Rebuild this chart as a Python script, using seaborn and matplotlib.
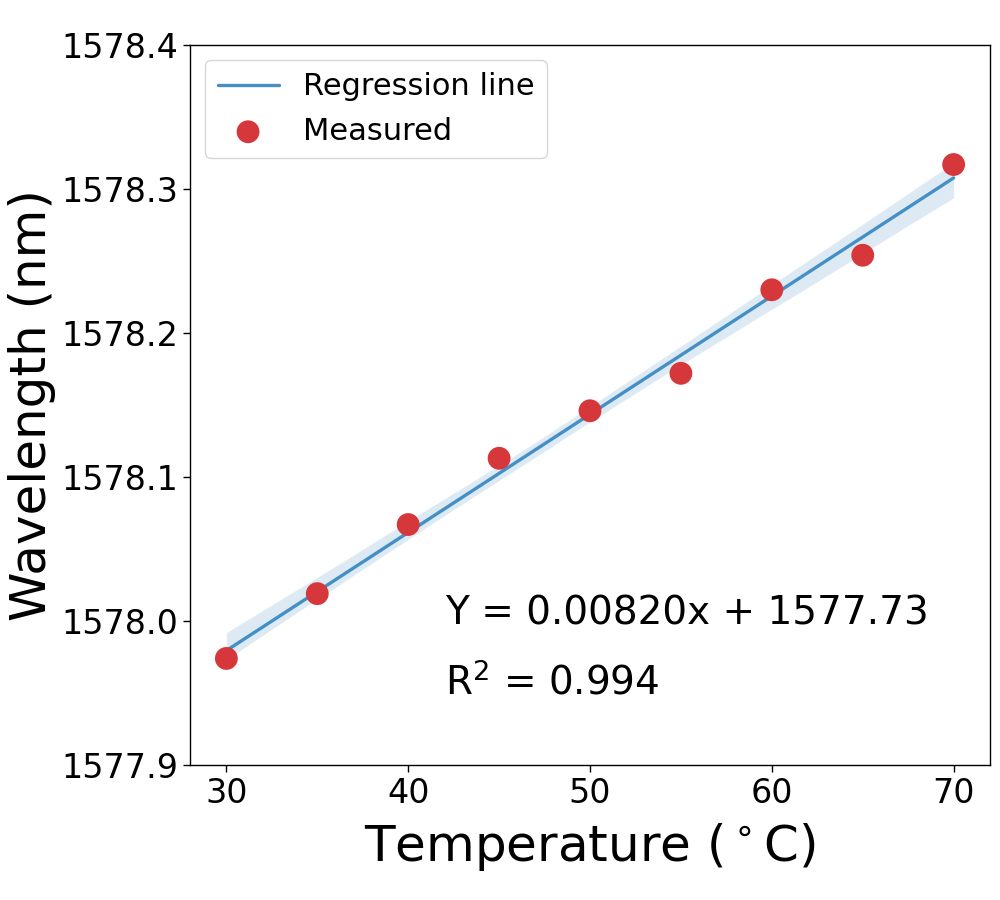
import matplotlib
matplotlib.use("Agg")
import matplotlib.pyplot as plt
import seaborn as sns
import pandas as pd

temperature = [30, 35, 40, 45, 50, 55, 60, 65, 70]
wavelength = [1577.974, 1578.019, 1578.067, 1578.113, 1578.146, 1578.172, 1578.230, 1578.254, 1578.317]
x_ticks = [30, 40, 50, 60, 70]
y_ticks = [1577.9, 1578.0, 1578.1, 1578.2, 1578.3, 1578.4]

df = pd.DataFrame({"T": temperature, "W": wavelength})

sns.set_style("ticks")
plt.rcParams['font.family'] = ['DejaVu Sans']
plt.rcParams.update({"text.color": "black", "axes.labelcolor": "black",
                     "xtick.color": "black", "ytick.color": "black",
                     "axes.edgecolor": "black"})
fig = plt.figure(figsize=(10, 9), dpi=100)
ax = fig.add_axes([0.19, 0.15, 0.80, 0.80])

sns.regplot(data=df, x="T", y="W", scatter=False, ci=95, ax=ax,
            color="#4490c6", label="Regression line", line_kws={"lw": 2.4, "zorder": 2})
for coll in ax.collections:
    coll.set_alpha(0.18)
sns.scatterplot(data=df, x="T", y="W", ax=ax, color="#d6373b", s=270,
                edgecolor="none", label="Measured", zorder=3)

ax.set_xlim(28, 72)
ax.set_ylim(1577.9, 1578.4)
ax.set_xticks(x_ticks)
ax.set_yticks(y_ticks)
ax.set_yticklabels([f"{v:.1f}" for v in y_ticks])
ax.tick_params(axis="both", labelsize=24, length=5, width=1, direction="out")
for s in ax.spines.values():
    s.set_color("black")
    s.set_linewidth(1)

ax.set_xlabel(r"Temperature ($^\circ$C)", fontsize=36, labelpad=8)
ax.set_ylabel("Wavelength (nm)", fontsize=36)

ax.text(42, 1578.005, "Y = 0.00820x + 1577.73", fontsize=28, va="center")
ax.text(42, 1577.957, r"R$^2$ = 0.994", fontsize=28, va="center")

handles, labels = ax.get_legend_handles_labels()
ax.legend(handles, labels, loc="upper left", fontsize=22, frameon=True,
          borderpad=0.4, labelspacing=0.5)

fig.savefig("out.png", dpi=100)
